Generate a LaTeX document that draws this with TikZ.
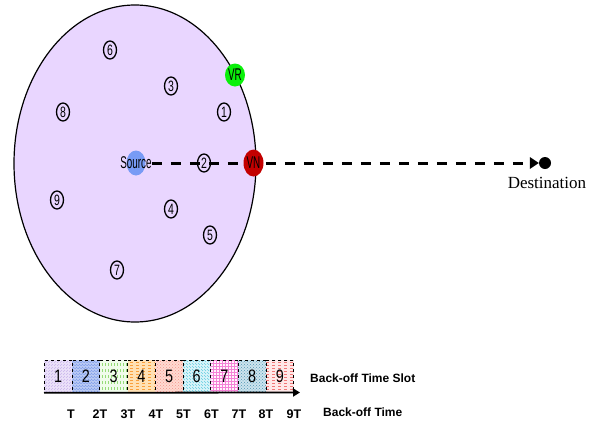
\documentclass[tikz,border=0pt]{standalone}
\usepackage{fontspec}
\setmainfont{Liberation Sans}
\newfontfamily\tmfont{Liberation Serif}
\usetikzlibrary{patterns,arrows.meta,shapes.geometric}
\definecolor{lav}{RGB}{233,214,255}
\definecolor{srcblue}{RGB}{120,155,245}
\definecolor{vrgreen}{RGB}{10,240,10}
\definecolor{vnred}{RGB}{195,0,0}
\begin{document}
\begin{tikzpicture}[x=1pt,y=-1pt,
  num/.style={ellipse,draw,line width=1.3pt,minimum width=13pt,minimum height=18pt,inner sep=0pt,font=\fontsize{15}{15}\selectfont},
  cond/.style={inner sep=0pt,font=\fontsize{17}{17}\selectfont},
  slot/.style={draw,dashed,line width=0.8pt,minimum width=27.7pt,minimum height=32pt,anchor=north west,inner sep=0pt,font=\fontsize{18}{18}\selectfont},
  blab/.style={inner sep=0pt,font=\bfseries\fontsize{12}{12}\selectfont},
  tlab/.style={inner sep=0pt,font=\bfseries\fontsize{12.5}{12.5}\selectfont}]
\useasboundingbox (0,0) rectangle (598,426);
% coverage area
\draw[fill=lav,line width=1.2pt] (135,163.5) ellipse [x radius=121, y radius=158.5];
% nodes
\node[ellipse,fill=srcblue,minimum width=19pt,minimum height=25pt,inner sep=0pt] (src) at (136,163) {};
\node[cond] (srcl) at (136,163) {\scalebox{0.58}[1]{Source}};
\node[circle,fill=black,minimum size=12pt,inner sep=0pt] (dest) at (545,163) {};
\node[inner sep=0pt,font=\tmfont\fontsize{17}{17}\selectfont,anchor=north] (destl) at (547,177) {Destination};
\draw[line width=3pt,dash pattern=on 10pt off 9pt,-{Triangle[length=9pt,width=12pt,line width=0pt]}] (srcl.east) -- (dest.west);
\node[ellipse,fill=vnred,minimum width=20pt,minimum height=27pt,inner sep=0pt] (vn) at (253.5,163) {};
\node[cond] at (vn) {\scalebox{0.58}[1]{VN}};
\node[ellipse,fill=vrgreen,minimum width=20pt,minimum height=23pt,inner sep=0pt] (vr) at (235,75) {};
\node[cond] at (vr) {\scalebox{0.58}[1]{VR}};
\node[num] (n1) at (224,112) {\scalebox{0.7}[1]{1}};
\node[num] (n2) at (204,163) {\scalebox{0.7}[1]{2}};
\node[num] (n3) at (171,86) {\scalebox{0.7}[1]{3}};
\node[num] (n4) at (171,209) {\scalebox{0.7}[1]{4}};
\node[num] (n5) at (210,235) {\scalebox{0.7}[1]{5}};
\node[num] (n6) at (110,50) {\scalebox{0.7}[1]{6}};
\node[num] (n7) at (117,270) {\scalebox{0.7}[1]{7}};
\node[num] (n8) at (63,112) {\scalebox{0.7}[1]{8}};
\node[num] (n9) at (57,200) {\scalebox{0.7}[1]{9}};
% time slots
\node[slot,preaction={fill={rgb,255:red,236;green,226;blue,250}},pattern=north east lines,pattern color={rgb,255:red,200;green,180;blue,235}] (s1) at (44.0,360) {\scalebox{0.8}[1]{1}};
\node[slot,preaction={fill={rgb,255:red,190;green,205;blue,245}},pattern=crosshatch,pattern color={rgb,255:red,130;green,160;blue,235}] (s2) at (71.7,360) {\scalebox{0.8}[1]{2}};
\node[slot,preaction={fill={rgb,255:red,240;green,252;blue,235}},pattern=vertical lines,pattern color={rgb,255:red,150;green,220;blue,120}] (s3) at (99.4,360) {\scalebox{0.8}[1]{3}};
\node[slot,preaction={fill={rgb,255:red,255;green,225;blue,180}},pattern=horizontal lines,pattern color={rgb,255:red,250;green,160;blue,60}] (s4) at (127.1,360) {\scalebox{0.8}[1]{4}};
\node[slot,preaction={fill={rgb,255:red,255;green,218;blue,210}},pattern=crosshatch dots,pattern color={rgb,255:red,245;green,150;blue,140}] (s5) at (154.8,360) {\scalebox{0.8}[1]{5}};
\node[slot,preaction={fill={rgb,255:red,220;green,245;blue,250}},pattern=north west lines,pattern color={rgb,255:red,100;green,205;blue,225}] (s6) at (182.5,360) {\scalebox{0.8}[1]{6}};
\node[slot,preaction={fill={rgb,255:red,255;green,245;blue,252}},pattern=grid,pattern color={rgb,255:red,245;green,130;blue,215}] (s7) at (210.2,360) {\scalebox{0.8}[1]{7}};
\node[slot,preaction={fill={rgb,255:red,205;green,228;blue,238}},pattern=crosshatch dots,pattern color={rgb,255:red,80;green,150;blue,180}] (s8) at (237.9,360) {\scalebox{0.8}[1]{8}};
\node[slot,preaction={fill={rgb,255:red,255;green,232;blue,232}},pattern=horizontal lines,pattern color={rgb,255:red,240;green,120;blue,120}] (s9) at (265.6,360) {\scalebox{0.8}[1]{9}};
\coordinate (axend) at (300,392.5);
\draw[line width=1.8pt,-{Triangle[length=7pt,width=8pt]}] (s1.south west) -- (axend);
\node[blab,anchor=west] (bts) at (310,378) {Back-off Time Slot};
\node[blab,anchor=west] (bt) at (323,412) {Back-off Time};
\node[tlab] (t1) at (71,414) {T};
\node[tlab] (t2) at (100,414) {2T};
\node[tlab] (t3) at (128,414) {3T};
\node[tlab] (t4) at (156,414) {4T};
\node[tlab] (t5) at (183.5,414) {5T};
\node[tlab] (t6) at (211.5,414) {6T};
\node[tlab] (t7) at (239,414) {7T};
\node[tlab] (t8) at (266,414) {8T};
\node[tlab] (t9) at (294,414) {9T};
\end{tikzpicture}
\end{document}
